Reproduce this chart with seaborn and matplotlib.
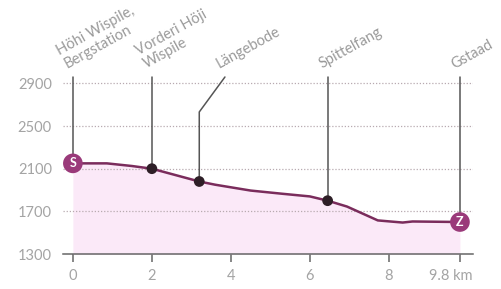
import numpy as np
import pandas as pd
import seaborn as sns
import matplotlib.pyplot as plt
from matplotlib.transforms import offset_copy

sns.set_theme(style="white")
plt.rcParams['font.family'] = ['Lato', 'DejaVu Sans']

# elevation profile
km = [0, 0.86, 1.5, 2.0, 2.6, 3.2, 3.6, 4.5, 5.3, 6.0, 6.45, 6.94, 7.72, 8.35, 8.6, 9.8]
elev = [2150, 2150, 2125, 2100, 2040, 1980, 1950, 1895, 1865, 1840, 1800, 1745, 1615, 1595, 1605, 1600]

# waypoints
stop_names = ["Höhi Wispile,\nBergstation", "Vorderi Höji\nWispile", "Längebode", "Spittelfang", "Gstaad"]
stop_km = [0, 2.0, 3.2, 6.45, 9.8]
stop_elev = [2150, 2100, 1980, 1800, 1600]

xticks = [0, 2, 4, 6, 8, 9.8]
xtick_labels = ["0", "2", "4", "6", "8", "9.8 km"]
yticks = [1300, 1700, 2100, 2500, 2900]

line_col = "#7a2c5c"
badge_col = "#9a3a7a"
fill_col = "#fbe9f8"
text_col = "#9a9a9a"

fig = plt.figure(figsize=(5.02, 2.89), dpi=100)
ax = fig.add_axes([0.1255, 0.1211, 0.8167, 0.6125])

top = 2960
ax.fill_between(km, elev, 1300, color=fill_col, lw=0, zorder=1)
for y in yticks[1:]:
    ax.axhline(y, color="#b8aab0", lw=0.9, ls=(0, (1, 1.5)), zorder=2)

df = pd.DataFrame({"km": km, "elev": elev})
sns.lineplot(data=df, x="km", y="elev", color=line_col, lw=1.8, ax=ax, zorder=4)

# leader lines
for name, x, y in zip(stop_names, stop_km, stop_elev):
    if name == "Längebode":
        ax.plot([x, x, 3.85], [y, 2632, top], color="#555555", lw=1.1, zorder=3, clip_on=False)
        tx = 3.85
    else:
        ax.plot([x, x], [y, top], color="#555555", lw=1.1, zorder=3, clip_on=False)
        tx = x
    ax.annotate(name, xy=(tx, top), xytext=(-3, 4), textcoords="offset points",
                rotation=29, rotation_mode="anchor", ha="left", va="bottom",
                fontsize=10.5, color=text_col, linespacing=1.15, annotation_clip=False)

mid = pd.DataFrame({"km": stop_km[1:-1], "elev": stop_elev[1:-1]})
sns.scatterplot(data=mid, x="km", y="elev", color="#2e1f27", s=60, edgecolor="none", ax=ax, zorder=5)

ends = pd.DataFrame({"km": [stop_km[0], stop_km[-1]], "elev": [stop_elev[0], stop_elev[-1]]})
sns.scatterplot(data=ends, x="km", y="elev", color=badge_col, s=200, edgecolor="none", ax=ax, zorder=6,
                clip_on=False)
for lab, x, y in zip(["S", "Z"], ends["km"], ends["elev"]):
    ax.text(x, y, lab, color="white", fontsize=9, fontweight="bold", ha="center", va="center", zorder=7)

ax.set_xlim(-0.25, 10.13)
ax.set_ylim(1300, top)
ax.set_xticks(xticks)
ax.set_xticklabels(xtick_labels)
ax.set_yticks(yticks)
ax.set_xlabel("")
ax.set_ylabel("")

for s in ["top", "right", "left"]:
    ax.spines[s].set_visible(False)
ax.spines["bottom"].set_color("#666666")
ax.spines["bottom"].set_linewidth(1.1)
ax.tick_params(axis="x", direction="out", length=6, width=1.1, color="#666666", pad=5,
               labelsize=10.5, labelcolor="#a4a4a4", bottom=True)
ax.tick_params(axis="y", length=0, pad=8, labelsize=10.5, labelcolor="#a4a4a4")

last = ax.get_xticklabels()[-1]
last.set_transform(offset_copy(last.get_transform(), fig=fig, x=-9, y=0, units="dots"))

fig.savefig("out.png", dpi=100, facecolor="white")
